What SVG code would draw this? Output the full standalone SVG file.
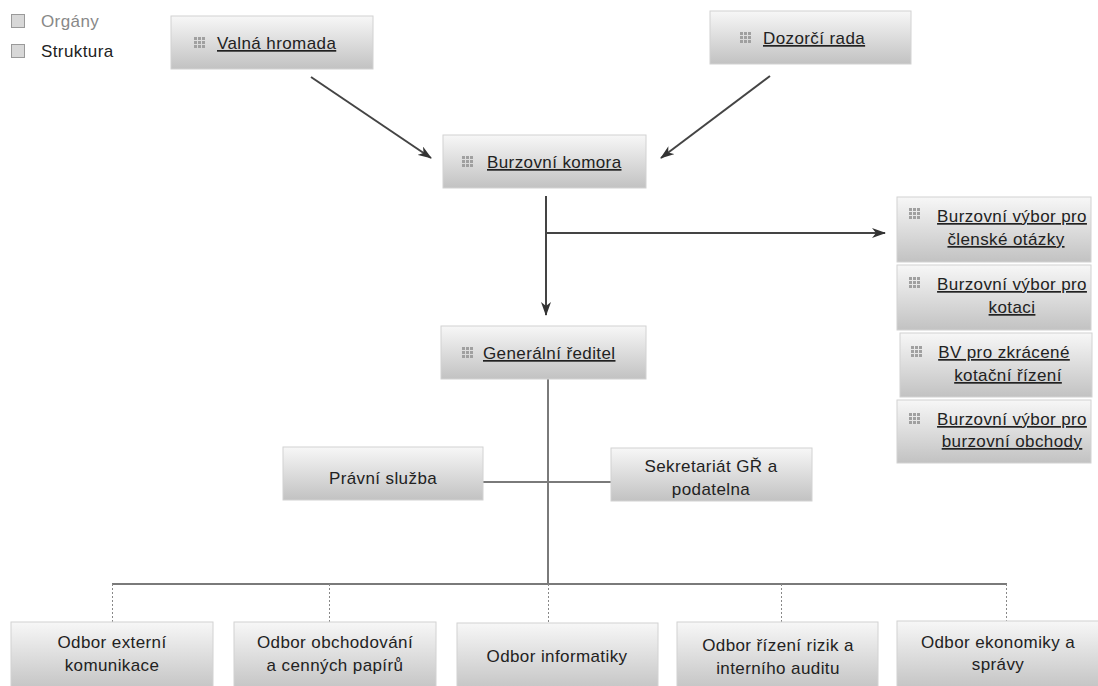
<svg xmlns="http://www.w3.org/2000/svg" width="1098" height="686" viewBox="0 0 1098 686">
<style>
.box{fill:url(#g);stroke:#d2d2d2;stroke-width:1}
.t{font-family:"Liberation Sans",Arial,sans-serif;font-size:17px;letter-spacing:0.4px;fill:#222}
.u{text-decoration:underline}
.c{text-anchor:middle}
.ln{stroke:#444;stroke-width:2;fill:none}
.gl{stroke:#7a7a7a;stroke-width:2;fill:none}
.dl{stroke:#888;stroke-width:1;stroke-dasharray:2 2;fill:none}
</style>
<defs>
<linearGradient id="g" x1="0" y1="0" x2="0" y2="1">
<stop offset="0" stop-color="#f7f7f7"/>
<stop offset="1" stop-color="#c2c2c2"/>
</linearGradient>
<marker id="ah" viewBox="0 0 14 10" refX="13" refY="5" markerWidth="14" markerHeight="10" markerUnits="userSpaceOnUse" orient="auto">
<path d="M0,0 L14,5 L0,10 L4,5 Z" fill="#333"/>
</marker>
<g id="ic" fill="#a0a0a0">
<rect x="0" y="0" width="3" height="3"/><rect x="4" y="0" width="3" height="3"/><rect x="8" y="0" width="3" height="3"/>
<rect x="0" y="4" width="3" height="3"/><rect x="4" y="4" width="3" height="3"/><rect x="8" y="4" width="3" height="3"/>
<rect x="0" y="8" width="3" height="3"/><rect x="4" y="8" width="3" height="3"/><rect x="8" y="8" width="3" height="3"/>
</g>
</defs>
<rect width="1098" height="686" fill="#fff"/>

<g id="legend">
<rect x="11.5" y="14.5" width="13" height="13" fill="#d8d8d8" stroke="#9a9a9a"/>
<text x="41" y="27" class="t" style="fill:#888">Orgány</text>
<rect x="11.5" y="44.5" width="13" height="13" fill="#d8d8d8" stroke="#9a9a9a"/>
<text x="41" y="57" class="t">Struktura</text>
</g>

<g id="connectors">
<line x1="311" y1="77" x2="431" y2="158" class="ln" marker-end="url(#ah)"/>
<line x1="770" y1="76" x2="661" y2="158" class="ln" marker-end="url(#ah)"/>
<line x1="546" y1="196" x2="546" y2="315" class="ln" marker-end="url(#ah)"/>
<line x1="546" y1="233" x2="885" y2="233" class="ln" marker-end="url(#ah)"/>
<line x1="548" y1="379" x2="548" y2="584" class="gl"/>
<line x1="483" y1="482" x2="611" y2="482" class="gl"/>
<line x1="112" y1="584" x2="1007" y2="584" class="gl"/>
<line x1="112.5" y1="584" x2="112.5" y2="622" class="dl"/>
<line x1="329.5" y1="584" x2="329.5" y2="622" class="dl"/>
<line x1="548.5" y1="584" x2="548.5" y2="622" class="dl"/>
<line x1="781.5" y1="584" x2="781.5" y2="622" class="dl"/>
<line x1="1006.5" y1="584" x2="1006.5" y2="622" class="dl"/>
</g>

<g id="valna">
<rect x="171" y="16" width="202" height="53" class="box"/>
<use href="#ic" x="194" y="37"/>
<text x="217" y="49" class="t u">Valná hromada</text>
</g>
<g id="dozorci">
<rect x="710" y="11" width="201" height="53" class="box"/>
<use href="#ic" x="740" y="32"/>
<text x="763" y="44" class="t u">Dozorčí rada</text>
</g>
<g id="komora">
<rect x="443" y="135" width="203" height="53" class="box"/>
<use href="#ic" x="462" y="156"/>
<text x="487" y="168" class="t u">Burzovní komora</text>
</g>
<g id="reditel">
<rect x="441" y="326" width="205" height="53" class="box"/>
<use href="#ic" x="462" y="347"/>
<text x="483" y="359" class="t u">Generální ředitel</text>
</g>

<g id="bv1">
<rect x="897" y="197" width="194" height="65" class="box"/>
<use href="#ic" x="909" y="208"/>
<text x="1012" y="222" class="t u c">Burzovní výbor pro</text>
<text x="1006" y="245" class="t u c">členské otázky</text>
</g>
<g id="bv2">
<rect x="897" y="265" width="194" height="65" class="box"/>
<use href="#ic" x="909" y="277"/>
<text x="1012" y="290" class="t u c">Burzovní výbor pro</text>
<text x="1012" y="313" class="t u c">kotaci</text>
</g>
<g id="bv3">
<rect x="900" y="333" width="192" height="64" class="box"/>
<use href="#ic" x="911" y="346"/>
<text x="1004" y="358" class="t u c">BV pro zkrácené</text>
<text x="1008" y="381" class="t u c">kotační řízení</text>
</g>
<g id="bv4">
<rect x="897" y="400" width="194" height="63" class="box"/>
<use href="#ic" x="909" y="413"/>
<text x="1012" y="425" class="t u c">Burzovní výbor pro</text>
<text x="1012" y="447" class="t u c">burzovní obchody</text>
</g>

<g id="pravni">
<rect x="283" y="447" width="200" height="53" class="box"/>
<text x="383" y="484" class="t c">Právní služba</text>
</g>
<g id="sekretariat">
<rect x="611" y="448" width="201" height="53" class="box"/>
<text x="711" y="472" class="t c">Sekretariát GŘ a</text>
<text x="711" y="495" class="t c">podatelna</text>
</g>

<g id="o1">
<rect x="11" y="622" width="202" height="70" class="box"/>
<text x="112" y="648" class="t c">Odbor externí</text>
<text x="112" y="671" class="t c">komunikace</text>
</g>
<g id="o2">
<rect x="234" y="622" width="202" height="70" class="box"/>
<text x="335" y="648" class="t c">Odbor obchodování</text>
<text x="335" y="671" class="t c">a cenných papírů</text>
</g>
<g id="o3">
<rect x="457" y="623" width="201" height="70" class="box"/>
<text x="557" y="662" class="t c">Odbor informatiky</text>
</g>
<g id="o4">
<rect x="677" y="622" width="201" height="70" class="box"/>
<text x="778" y="651" class="t c">Odbor řízení rizik a</text>
<text x="778" y="674" class="t c">interního auditu</text>
</g>
<g id="o5">
<rect x="897" y="621" width="202" height="70" class="box"/>
<text x="998" y="648" class="t c">Odbor ekonomiky a</text>
<text x="998" y="670" class="t c">správy</text>
</g>
</svg>
